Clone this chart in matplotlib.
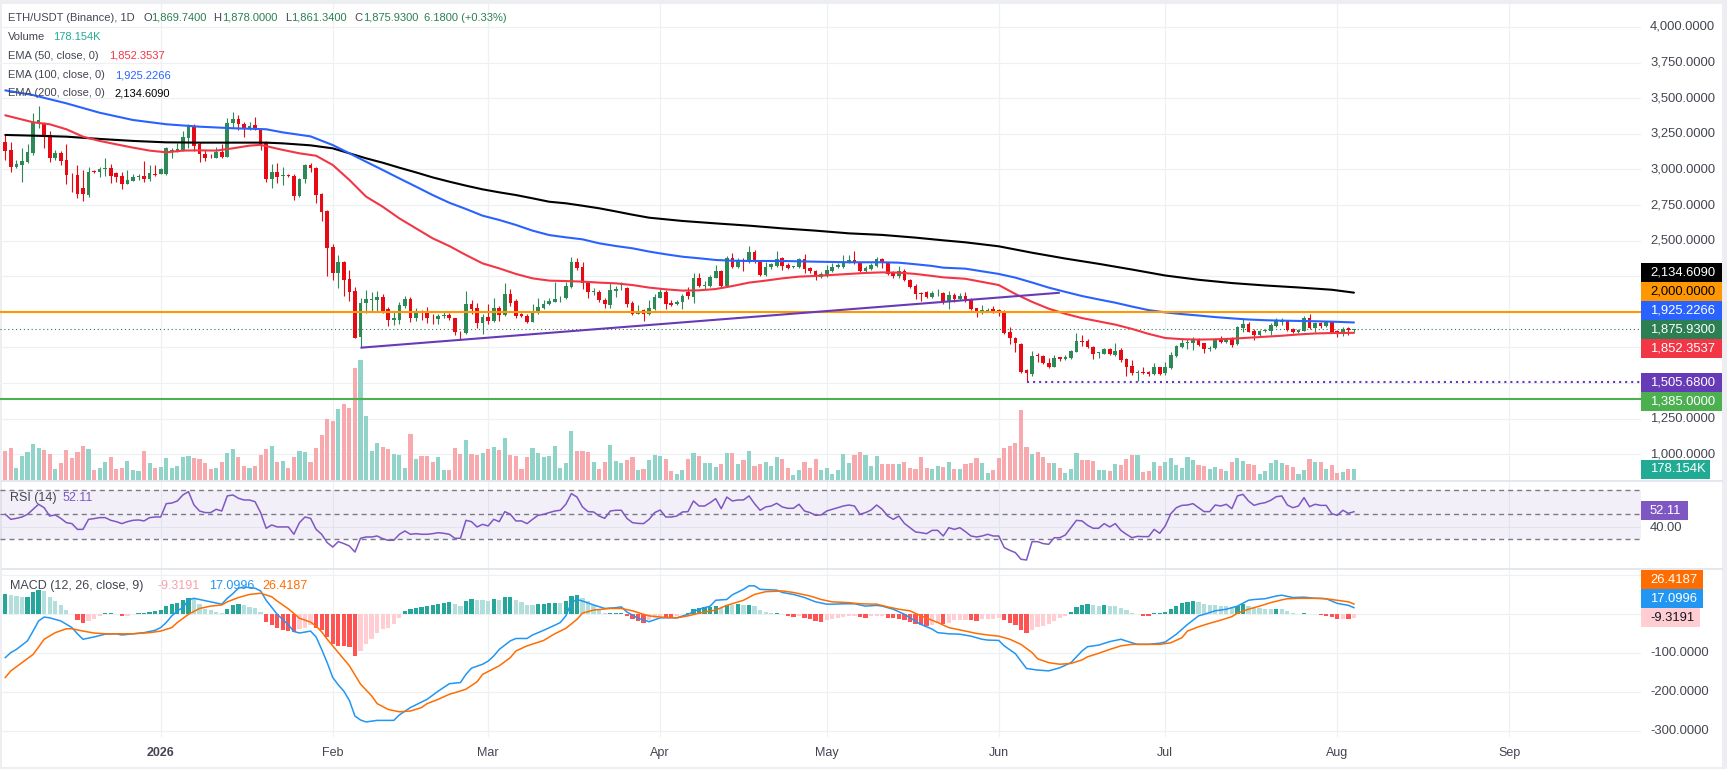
import numpy as np
import pandas as pd
import matplotlib
matplotlib.use('Agg')
import matplotlib.pyplot as plt
from matplotlib.patches import Rectangle
from matplotlib.lines import Line2D

plt.rcParams['font.family'] = ['Liberation Sans', 'DejaVu Sans']

# ---------------- data (daily candles from 2025-12-04) ----------------
first_date = '2025-12-04'
opens = [3190, 3137, 3020, 3031, 3055, 3118, 3325, 3324, 3242, 3083,
         3118, 3066, 2970, 2961, 2868, 2820, 2989, 2980, 3003, 3013,
         2973, 2956, 2898, 2921, 2947, 2956, 2933, 2968, 2968, 2966,
         3125, 3125, 3137, 3223, 3307, 3176, 3106, 3090, 3083, 3125,
         3090, 3324, 3354, 3317, 3289, 3312, 3282, 3190, 2933, 2980,
         2956, 2960, 2956, 2816, 2930, 3031, 3012, 2825, 2708, 2457,
         2270, 2352, 2230, 2146, 1820, 2060, 2080, 2083, 2104, 2020,
         1943, 1943, 2043, 2090, 1959, 1999, 1994, 1959, 1947, 1973,
         1978, 1954, 1860, 1849, 2055, 2024, 1924, 1966, 1936, 2029,
         1978, 2125, 2076, 1982, 1973, 1931, 1989, 2029, 2052, 2071,
         2095, 2095, 2177, 2347, 2317, 2200, 2137, 2142, 2083, 2048,
         2149, 2188, 2170, 2060, 1987, 2013, 1982, 2017, 2099, 2137,
         2060, 2053, 2067, 2137, 2106, 2240, 2181, 2184, 2240, 2287,
         2181, 2376, 2312, 2362, 2350, 2422, 2352, 2259, 2312, 2324,
         2376, 2329, 2317, 2317, 2371, 2305, 2287, 2247, 2254, 2289,
         2317, 2315, 2347, 2364, 2347, 2287, 2301, 2322, 2371, 2340,
         2275, 2252, 2287, 2223, 2184, 2130, 2137, 2106, 2130, 2134,
         2067, 2118, 2090, 2111, 2090, 2024, 2006, 2008, 2020, 2013,
         2008, 1861, 1819, 1774, 1592, 1563, 1697, 1690, 1643, 1615,
         1681, 1667, 1678, 1720, 1797, 1795, 1755, 1709, 1704, 1739,
         1697, 1732, 1669, 1620, 1568, 1580, 1575, 1563, 1610, 1568,
         1603, 1692, 1755, 1783, 1783, 1809, 1779, 1739, 1744, 1802,
         1786, 1809, 1772, 1889, 1915, 1865, 1837, 1865, 1868, 1903,
         1931, 1938, 1879, 1856, 1868, 1954, 1884, 1924, 1900, 1926,
         1868, 1842, 1888, 1869.74]
highs = [3242, 3190, 3066, 3148, 3176, 3394, 3448, 3336, 3270, 3137,
         3130, 3176, 2973, 3031, 2996, 3020, 2996, 3020, 3078, 3036,
         2985, 2980, 2996, 2966, 2966, 3059, 3031, 3031, 3013, 3160,
         3148, 3183, 3270, 3319, 3317, 3190, 3137, 3106, 3160, 3176,
         3364, 3406, 3382, 3331, 3331, 3371, 3293, 3200, 3038, 3043,
         3020, 2966, 2966, 2938, 3036, 3047, 3019, 2832, 2715, 2474,
         2399, 2357, 2294, 2177, 2099, 2153, 2142, 2146, 2123, 2036,
         2001, 2071, 2111, 2107, 2029, 2013, 2036, 1982, 1982, 2001,
         1989, 1959, 1865, 2146, 2083, 2060, 1982, 2055, 2095, 2043,
         2200, 2160, 2088, 1994, 1982, 2053, 2095, 2083, 2095, 2212,
         2109, 2212, 2387, 2375, 2352, 2212, 2165, 2153, 2095, 2200,
         2181, 2212, 2177, 2076, 2048, 2020, 2083, 2123, 2165, 2153,
         2083, 2083, 2123, 2177, 2275, 2270, 2216, 2259, 2329, 2294,
         2394, 2415, 2380, 2380, 2465, 2432, 2359, 2352, 2345, 2427,
         2387, 2340, 2322, 2380, 2404, 2317, 2294, 2277, 2329, 2340,
         2340, 2399, 2399, 2427, 2352, 2324, 2340, 2383, 2380, 2352,
         2287, 2324, 2301, 2230, 2195, 2137, 2146, 2146, 2160, 2142,
         2149, 2130, 2130, 2137, 2099, 2029, 2048, 2029, 2041, 2017,
         2013, 1891, 1826, 1779, 1599, 1727, 1709, 1697, 1674, 1697,
         1685, 1697, 1732, 1849, 1837, 1809, 1760, 1720, 1744, 1744,
         1783, 1744, 1678, 1662, 1592, 1613, 1587, 1643, 1615, 1645,
         1720, 1767, 1809, 1807, 1826, 1819, 1783, 1760, 1814, 1830,
         1819, 1826, 1900, 1947, 1926, 1877, 1872, 1879, 1919, 1954,
         1954, 1943, 1889, 1879, 1971, 1985, 1931, 1931, 1936, 1936,
         1872, 1891, 1892, 1878.00]
lows = [3066, 2985, 3008, 2914, 3043, 3102, 3293, 3148, 3050, 3066,
        3031, 2898, 2840, 2797, 2780, 2809, 2973, 2949, 2956, 2907,
        2910, 2863, 2895, 2919, 2926, 2914, 2919, 2956, 2966, 2961,
        3078, 3120, 3132, 3148, 3130, 3055, 3059, 3083, 3078, 3083,
        3085, 3289, 3277, 3230, 3277, 3277, 3137, 2914, 2867, 2907,
        2891, 2950, 2785, 2809, 2902, 2984, 2762, 2640, 2254, 2223,
        2165, 2114, 2076, 1814, 1748, 1994, 2001, 2001, 1994, 1903,
        1907, 1912, 2029, 1931, 1936, 1943, 1919, 1912, 1912, 1959,
        1943, 1837, 1802, 1842, 1982, 1889, 1842, 1912, 1926, 1936,
        1973, 2043, 1959, 1964, 1919, 1926, 1985, 2020, 2048, 2066,
        2066, 2090, 2170, 2294, 2158, 2095, 2118, 2067, 2029, 2025,
        2107, 2153, 2036, 1978, 1985, 1938, 1978, 2013, 2095, 2020,
        2043, 2048, 2020, 2090, 2064, 2177, 2160, 2177, 2235, 2177,
        2177, 2305, 2305, 2289, 2340, 2340, 2252, 2254, 2301, 2317,
        2294, 2301, 2305, 2310, 2270, 2270, 2223, 2235, 2247, 2282,
        2305, 2310, 2340, 2333, 2282, 2270, 2294, 2317, 2305, 2259,
        2240, 2240, 2216, 2165, 2090, 2076, 2099, 2099, 2111, 2053,
        2020, 2067, 2083, 2067, 2013, 1966, 1985, 2001, 1994, 1971,
        1844, 1772, 1720, 1568, 1505.68, 1552, 1650, 1631, 1608, 1610,
        1657, 1662, 1669, 1716, 1762, 1744, 1669, 1678, 1702, 1697,
        1692, 1650, 1552, 1556, 1517, 1563, 1552, 1556, 1556, 1556,
        1599, 1685, 1748, 1737, 1732, 1762, 1713, 1725, 1739, 1779,
        1779, 1755, 1767, 1861, 1856, 1802, 1833, 1856, 1837, 1896,
        1908, 1865, 1849, 1849, 1865, 1879, 1861, 1889, 1896, 1849,
        1826, 1833, 1840, 1861.34]
closes = [3132, 3020, 3038, 3059, 3125, 3329, 3345, 3230, 3083, 3113,
          3059, 2961, 2965, 2830, 2825, 2980, 2980, 3003, 3013, 2956,
          2945, 2895, 2926, 2949, 2952, 2933, 2973, 2961, 3003, 3148,
          3134, 3141, 3225, 3312, 3167, 3106, 3083, 3085, 3125, 3087,
          3324, 3352, 3317, 3293, 3307, 3282, 3172, 2930, 2980, 2945,
          2961, 2956, 2816, 2930, 3031, 3008, 2820, 2703, 2450, 2270,
          2347, 2223, 2142, 1818, 2060, 2090, 2090, 2104, 2001, 1943,
          1954, 2048, 2090, 1959, 1996, 1989, 1954, 1954, 1973, 1978,
          1954, 1856, 1856, 2055, 2020, 1919, 1961, 1936, 2029, 1978,
          2125, 2060, 1973, 1973, 1926, 1994, 2036, 2055, 2076, 2090,
          2100, 2184, 2352, 2310, 2200, 2137, 2146, 2083, 2052, 2153,
          2158, 2200, 2053, 1985, 1994, 1982, 2024, 2107, 2137, 2053,
          2048, 2067, 2114, 2111, 2240, 2184, 2188, 2247, 2287, 2181,
          2376, 2317, 2359, 2350, 2418, 2347, 2259, 2317, 2333, 2369,
          2322, 2310, 2321, 2369, 2301, 2287, 2247, 2263, 2294, 2317,
          2329, 2352, 2364, 2340, 2287, 2310, 2329, 2369, 2340, 2266,
          2254, 2289, 2223, 2177, 2125, 2125, 2106, 2134, 2134, 2067,
          2118, 2090, 2111, 2076, 2020, 2001, 2013, 2015, 2001, 2001,
          1854, 1814, 1779, 1580, 1568, 1690, 1690, 1639, 1610, 1674,
          1667, 1685, 1725, 1795, 1790, 1751, 1704, 1716, 1739, 1702,
          1725, 1662, 1615, 1568, 1580, 1573, 1566, 1610, 1563, 1615,
          1697, 1760, 1783, 1790, 1807, 1767, 1739, 1748, 1802, 1786,
          1809, 1767, 1896, 1915, 1861, 1837, 1868, 1872, 1908, 1943,
          1938, 1872, 1856, 1872, 1954, 1884, 1924, 1903, 1926, 1861,
          1842, 1879, 1869.75, 1875.93]
volume_k = [470, 513, 200, 389, 459, 583, 524, 486, 421, 180,
            270, 486, 362, 459, 551, 502, 170, 190, 286, 373,
            180, 200, 308, 170, 150, 470, 270, 200, 210, 362,
            200, 220, 378, 389, 362, 340, 281, 180, 200, 286,
            432, 497, 378, 220, 200, 230, 405, 502, 551, 297,
            308, 200, 378, 470, 459, 297, 513, 729, 988, 956,
            1150, 1231, 1166, 1814, 1944, 1037, 470, 599, 535, 502,
            421, 405, 200, 745, 340, 389, 389, 292, 373, 170,
            170, 518, 421, 648, 421, 405, 437, 502, 535, 486,
            680, 405, 389, 180, 373, 518, 437, 373, 389, 551,
            190, 275, 794, 470, 470, 454, 292, 180, 292, 567,
            308, 281, 324, 373, 162, 178, 324, 405, 394, 340,
            146, 97, 162, 340, 437, 389, 275, 275, 216, 259,
            437, 437, 259, 324, 470, 227, 259, 292, 227, 373,
            340, 194, 81, 162, 292, 194, 340, 162, 194, 97,
            162, 421, 275, 405, 454, 405, 227, 389, 259, 259,
            259, 259, 292, 194, 178, 373, 194, 178, 232, 211,
            292, 178, 178, 265, 281, 356, 275, 119, 162, 356,
            518, 551, 599, 1134, 535, 421, 454, 373, 275, 275,
            194, 113, 178, 437, 324, 324, 308, 162, 162, 146,
            259, 243, 340, 405, 405, 130, 146, 292, 227, 292,
            356, 243, 194, 373, 324, 243, 227, 178, 211, 178,
            146, 292, 356, 308, 259, 243, 97, 146, 275, 324,
            275, 243, 211, 97, 162, 340, 292, 292, 178, 243,
            119, 130, 178, 178.154]
rsi_vals = [50.0, 45.9, 46.7, 47.8, 50.0, 54.1, 58.2, 55.4, 48.6, 49.5,
            46.7, 43.2, 42.4, 37.7, 37.7, 45.9, 46.5, 47.3, 47.3, 45.1,
            44.0, 42.4, 44.0, 45.1, 45.4, 44.6, 47.3, 47.8, 47.8, 58.7,
            59.2, 60.9, 65.8, 68.5, 57.6, 52.7, 51.4, 51.4, 54.1, 52.7,
            65.0, 65.8, 63.1, 61.7, 61.7, 60.3, 51.4, 38.6, 41.3, 39.7,
            39.7, 39.7, 33.7, 43.2, 47.8, 46.7, 37.7, 33.7, 26.9, 23.3,
            27.7, 26.1, 24.1, 19.2, 30.4, 31.5, 31.5, 32.3, 30.1, 28.8,
            28.8, 33.7, 36.4, 33.7, 34.2, 33.7, 33.7, 34.2, 35.0, 34.5,
            33.7, 30.4, 30.4, 45.1, 44.0, 39.7, 41.8, 40.5, 45.9, 44.0,
            52.2, 50.0, 44.6, 44.6, 42.4, 45.9, 49.2, 50.0, 51.4, 52.7,
            53.3, 58.2, 66.9, 64.1, 56.0, 52.2, 51.9, 48.6, 46.7, 52.7,
            53.3, 53.3, 46.7, 43.2, 42.6, 42.4, 45.9, 51.4, 53.5, 47.8,
            47.8, 48.6, 51.9, 52.2, 60.9, 56.8, 56.8, 59.5, 62.8, 54.6,
            64.1, 60.9, 61.7, 61.7, 65.0, 58.7, 53.3, 56.0, 56.8, 59.0,
            56.0, 54.9, 54.9, 58.2, 52.7, 51.4, 49.2, 49.5, 52.7, 54.1,
            55.4, 56.8, 57.6, 56.8, 50.0, 51.4, 53.5, 57.6, 54.1, 48.6,
            45.9, 48.6, 42.6, 39.1, 35.6, 35.0, 34.2, 36.9, 36.9, 32.3,
            39.1, 37.7, 39.1, 35.8, 32.3, 31.5, 32.3, 33.7, 32.3, 32.3,
            22.8, 20.6, 18.7, 13.3, 12.7, 27.7, 27.7, 26.1, 25.5, 30.9,
            30.9, 33.1, 39.1, 45.1, 44.6, 41.0, 38.6, 38.6, 42.4, 39.7,
            42.4, 36.9, 33.7, 30.9, 32.0, 31.8, 31.8, 37.7, 34.5, 40.5,
            50.5, 55.4, 57.3, 57.6, 58.7, 55.4, 52.2, 52.2, 57.6, 56.8,
            58.2, 54.6, 65.0, 66.3, 60.9, 57.3, 58.7, 59.5, 61.4, 64.4,
            65.0, 57.6, 55.4, 56.8, 63.6, 56.2, 58.2, 57.3, 57.3, 50.5,
            49.2, 53.3, 50.8, 52.11]
macd_hist = [51, 50, 47, 44, 44, 57, 62, 60, 45, 34,
             24, 11, 2, -15, -21, -17, -11, -4, 3, 4,
             2, -4, -3.5, 2, 3.5, 4.5, 6, 8.5, 10, 21,
             26, 30, 37, 41, 38, 27, 13, 10, 7, 4,
             13, 24, 26, 24, 20, 15, 6, -19, -28, -34,
             -41, -43, -45, -38, -34, -27, -36, -41, -58, -77,
             -81, -82, -85, -107, -94, -77, -64, -47, -38, -34,
             -26, -10, 9, 13, 17, 20, 21, 24, 27, 28,
             32, 27, 22, 34, 40, 37, 36, 34, 40, 37,
             44, 45, 37, 32, 24, 23, 26, 27, 29, 30,
             29, 34, 47, 50, 41, 34, 24, 13, 3, 3.5,
             4, 4.5, -4, -13, -17, -21, -15, -10, -7, -7.5,
             -8, -4, 2, 3.5, 14, 17, 18, 20, 21, 17,
             25, 24, 26, 24, 25, 21, 11, 6, 3, 3.5,
             1, -4, -6, -5.5, -10, -13, -17, -20, -15, -12,
             -8.5, -7, -4.5, -4, -7, -8.5, -5, -4.5, -4, -10,
             -10.5, -11, -15, -19, -24, -28, -30, -27, -21, -26,
             -21, -15, -14.5, -14, -15, -16, -13, -12.5, -12, -8.5,
             -15, -21, -27, -40, -47, -40, -32, -30, -24, -17,
             -8.5, -4, 6, 19, 24, 26, 24, 21, 24, 21,
             20.5, 15, 10, 3.4, 1, -4, -4.5, 3.4, 3.6, 6,
             14.5, 21, 28, 32, 34, 32, 26, 24, 23.5, 21,
             20.5, 19, 21, 26, 21, 19, 17, 14.5, 14, 14.5,
             13, 8.5, 3.4, 1, 3.4, 1, 0.8, -2, -4, -7,
             -12, -11.5, -12, -9.3191]

# sampled indicator lines: day offset from 2026-01-01 and value
macd_day = [-28, -27, -26, -24, -23, -22, -21, -20, -18, -16,
            -15, -14, -12, -10, -8, -7, -5, -3, -1, 0,
            1, 2, 3, 4, 5, 6, 7, 9, 11, 12,
            13, 14, 15, 17, 18, 19, 21, 23, 24, 25,
            27, 28, 29, 30, 31, 32, 33, 34, 35, 36,
            37, 39, 41, 42, 43, 45, 47, 48, 50, 52,
            54, 55, 56, 58, 59, 60, 61, 63, 64, 66,
            67, 69, 71, 72, 73, 74, 75, 76, 78, 80,
            82, 83, 84, 86, 88, 90, 92, 93, 95, 97,
            99, 100, 102, 103, 105, 106, 107, 108, 111, 112,
            114, 116, 118, 120, 121, 123, 125, 127, 129, 130,
            132, 134, 135, 137, 139, 140, 142, 144, 146, 148,
            149, 151, 152, 154, 156, 158, 160, 162, 164, 166,
            167, 169, 171, 173, 175, 176, 178, 180, 181, 183,
            185, 187, 188, 190, 192, 194, 196, 197, 199, 201,
            202, 204, 206, 208, 210, 212, 214, 215]
macd_val = [-111, -98, -90, -68, -43, -17, -7, -9, -17, -34,
            -50, -64, -58, -51, -50, -53, -50, -47, -41, -34,
            -21, -4, 9, 17, 37, 41, 38, 32, 26, 41,
            53, 67, 70, 67, 60, 36, 0, -27, -44, -48,
            -43, -58, -90, -124, -162, -181, -197, -221, -261, -271,
            -276, -272, -272, -272, -258, -239, -225, -218, -197, -178,
            -175, -154, -138, -128, -120, -107, -90, -68, -62, -62,
            -53, -41, -28, -21, -4, 30, 38, 34, 24, 15,
            17, 19, 6, -10, -19, -9, -9, -9, 0, 13,
            21, 36, 38, 50, 64, 73, 73, 64, 62, 56,
            51, 43, 32, 26, 26, 27, 27, 21, 23, 21,
            13, 0, -9, -26, -38, -47, -50, -51, -56, -64,
            -66, -67, -81, -101, -139, -143, -145, -137, -124, -94,
            -83, -79, -70, -64, -73, -77, -77, -74, -71, -51,
            -26, -4, 0, 9, 13, 21, 36, 38, 40, 47,
            49, 43, 44, 41, 40, 28, 23, 17.0996]
sig_day = [-28, -27, -25, -23, -22, -21, -19, -17, -16, -14,
           -12, -10, -8, -5, -2, 0, 2, 3, 5, 7,
           9, 11, 12, 14, 16, 18, 20, 21, 23, 25,
           27, 28, 29, 30, 32, 34, 36, 38, 39, 41,
           43, 45, 47, 48, 50, 52, 53, 55, 57, 58,
           61, 63, 64, 66, 69, 71, 73, 75, 76, 78,
           81, 83, 85, 87, 88, 90, 93, 95, 97, 100,
           102, 105, 107, 109, 112, 114, 117, 119, 121, 124,
           126, 129, 131, 133, 135, 137, 140, 142, 145, 147,
           149, 151, 153, 155, 157, 158, 160, 162, 164, 166,
           167, 169, 171, 173, 175, 176, 178, 180, 182, 184,
           185, 187, 189, 191, 193, 194, 196, 198, 200, 202,
           203, 205, 207, 209, 211, 212, 214, 215]
sig_val = [-162, -145, -124, -103, -84, -64, -47, -37, -37, -43,
           -48, -50, -50, -50, -47, -43, -34, -21, 0, 15,
           21, 24, 32, 43, 51, 54, 45, 34, 14, -10,
           -20, -30, -45, -64, -98, -132, -179, -209, -229, -244,
           -250, -248, -239, -229, -218, -205, -201, -192, -173, -154,
           -132, -111, -94, -81, -67, -50, -36, -13, 3, 11,
           15, 15, 9, 0, -4, -7, -9, -4, 3, 11,
           23, 36, 51, 58, 60, 56, 47, 38, 32, 30,
           27, 26, 19, 13, 9, -4, -21, -34, -43, -49,
           -53, -56, -64, -77, -98, -114, -124, -128, -126, -117,
           -109, -100, -90, -81, -77, -77, -77, -77, -73, -60,
           -43, -32, -23, -15, -6, 3, 13, 21, 30, 37,
           40, 41, 41, 41, 38, 36, 32, 26.4187]
ema50_day = [-28, -23, -20, -17, -14, -11, -8, -5, -2, 1,
             4, 7, 10, 13, 16, 18, 22, 25, 28, 31,
             34, 37, 40, 43, 46, 49, 52, 55, 58, 61,
             64, 67, 70, 73, 76, 79, 82, 85, 88, 91,
             94, 97, 100, 103, 106, 109, 112, 115, 118, 121,
             124, 127, 130, 133, 136, 139, 141, 145, 151, 154,
             157, 160, 163, 166, 169, 172, 175, 178, 181, 184,
             187, 190, 193, 196, 199, 202, 205, 208, 211, 215]
ema50_val = [3380, 3331, 3317, 3282, 3230, 3200, 3176, 3153, 3132, 3120,
             3132, 3134, 3132, 3148, 3167, 3172, 3137, 3113, 3096, 3031,
             2926, 2809, 2738, 2656, 2586, 2516, 2462, 2399, 2340, 2305,
             2266, 2235, 2219, 2216, 2212, 2205, 2200, 2188, 2170, 2158,
             2149, 2151, 2160, 2181, 2205, 2219, 2235, 2247, 2252, 2259,
             2266, 2273, 2277, 2275, 2266, 2252, 2242, 2232, 2188, 2125,
             2070, 2022, 1986, 1956, 1933, 1910, 1880, 1845, 1816, 1808,
             1805, 1807, 1811, 1818, 1825, 1832, 1841, 1848, 1851, 1852.3537]
ema100_day = [-28, -23, -17, -11, -5, 1, 7, 13, 19, 22,
              27, 31, 34, 37, 40, 43, 46, 49, 52, 55,
              58, 61, 64, 67, 70, 73, 76, 79, 82, 85,
              88, 91, 94, 97, 100, 103, 106, 112, 118, 124,
              130, 133, 136, 139, 141, 145, 151, 154, 157, 160,
              163, 166, 169, 172, 175, 178, 181, 184, 187, 190,
              193, 196, 199, 202, 205, 208, 211, 215]
ema100_val = [3555, 3522, 3464, 3398, 3347, 3317, 3300, 3289, 3282, 3260,
              3232, 3171, 3113, 3054, 2996, 2937, 2879, 2820, 2766, 2722,
              2675, 2645, 2610, 2570, 2539, 2523, 2509, 2481, 2462, 2446,
              2423, 2404, 2387, 2376, 2364, 2359, 2357, 2357, 2352, 2348,
              2348, 2345, 2334, 2322, 2310, 2303, 2266, 2240, 2206, 2170,
              2140, 2111, 2087, 2064, 2037, 2012, 1996, 1984, 1974, 1963,
              1954, 1946, 1941, 1938, 1936, 1934, 1931, 1925.2266]
ema200_day = [-28, -23, -17, -11, -5, 1, 7, 13, 19, 22,
              27, 31, 34, 37, 40, 43, 46, 49, 52, 55,
              58, 61, 64, 67, 70, 73, 76, 79, 82, 85,
              88, 94, 100, 106, 112, 118, 124, 130, 136, 141,
              145, 151, 157, 163, 169, 175, 181, 187, 193, 199,
              205, 211, 215]
ema200_val = [3242, 3237, 3230, 3214, 3200, 3190, 3188, 3188, 3188, 3183,
              3169, 3148, 3113, 3078, 3047, 3012, 2979, 2944, 2914, 2886,
              2860, 2839, 2820, 2797, 2773, 2762, 2745, 2727, 2705, 2682,
              2661, 2638, 2621, 2605, 2586, 2570, 2551, 2540, 2521, 2502,
              2488, 2460, 2415, 2374, 2337, 2297, 2255, 2225, 2202, 2185,
              2171, 2155, 2134.609]

# drawings
level_orange = 2000.0
level_green = 1385.0
support_level = 1505.68
support_start_day = 156
trend_day = [36, 162]
trend_price = [1748, 2134]

month_ticks = ['2026-01-01', '2026-02-01', '2026-03-01', '2026-04-01', '2026-05-01',
               '2026-06-01', '2026-07-01', '2026-08-01', '2026-09-01']
month_labels = ['2026', 'Feb', 'Mar', 'Apr', 'May', 'Jun', 'Jul', 'Aug', 'Sep']
price_ticks = [4000, 3750, 3500, 3250, 3000, 2750, 2500, 2250, 2000, 1750, 1500, 1250, 1000]
price_tick_labels_shown = [4000, 3750, 3500, 3250, 3000, 2750, 2500, 1250, 1000]
macd_ticks = [100, 0, -100, -200, -300]
macd_tick_labels_shown = [-100, -200, -300]

# ---------------- figure ----------------
n = min(len(opens), len(highs), len(lows), len(closes), len(volume_k), len(rsi_vals), len(macd_hist))
O = np.array(opens[:n], float); Hh = np.array(highs[:n], float)
L = np.array(lows[:n], float); C = np.array(closes[:n], float)
V = np.array(volume_k[:n], float); R = np.array(rsi_vals[:n], float)
MH = np.array(macd_hist[:n], float)
origin = pd.Timestamp('2026-01-01')
xd = (pd.date_range(first_date, periods=n, freq='D') - origin).days.to_numpy().astype(float)

W, H = 1727, 769
fig = plt.figure(figsize=(W / 100, H / 100), dpi=100, facecolor='#eceef2')
fig.add_artist(Rectangle((2 / W, 1 - 767 / H), 1720 / W, 763 / H, transform=fig.transFigure,
                         facecolor='white', edgecolor='none', zorder=-10))

def px_axes(x0, y0, x1, y1):
    ax = fig.add_axes([x0 / W, 1 - y1 / H, (x1 - x0) / W, (y1 - y0) / H])
    ax.set_axis_off()
    return ax

XL = (-28.955, 266.72)
GRID = '#eef0f4'
TXT = '#434651'
UP, DN = '#2d8a57', '#e60a14'
VUP, VDN = '#90d3c8', '#f8a9ad'

ax_v = px_axes(0, 4, 1641, 481)
ax_p = px_axes(0, 4, 1641, 481)
ax_r = px_axes(0, 481, 1641, 569)
ax_m = px_axes(0, 569, 1641, 737)
PLIM = (812.0, 4161.5)
VLIM = (-16.2, 7711.0)
ax_v.set_ylim(VLIM); ax_p.set_ylim(PLIM)
ax_r.set_ylim(5.35, 77.2); ax_m.set_ylim(-314.6, 116.2)
for a in (ax_v, ax_p, ax_r, ax_m):
    a.set_xlim(XL)

tick_days = [(pd.Timestamp(t) - origin).days for t in month_ticks]

# grid
for d in tick_days:
    for a in (ax_v, ax_r, ax_m):
        a.axvline(d, color=GRID, lw=0.9, zorder=0)
for p in price_ticks:
    vy = VLIM[0] + (p - PLIM[0]) / (PLIM[1] - PLIM[0]) * (VLIM[1] - VLIM[0])
    ax_v.axhline(vy, color=GRID, lw=0.9, zorder=0)
ax_r.axhline(40, color=GRID, lw=0.9, zorder=0)
for t in macd_ticks:
    ax_m.axhline(t, color=GRID, lw=0.9, zorder=0)

# volume
up = C >= O
ax_v.bar(xd, V, width=0.74, color=np.where(up, VUP, VDN), linewidth=0, zorder=2)

# candles
cc = np.where(up, UP, DN)
ax_p.vlines(xd, L, Hh, colors=cc, lw=0.8, zorder=3)
ax_p.bar(xd, np.maximum(np.abs(C - O), 4), bottom=np.minimum(O, C), width=0.66,
         color=cc, linewidth=0, zorder=4)

# EMAs
ax_p.plot(ema200_day, ema200_val, color='#000000', lw=1.5, zorder=5, solid_capstyle='round')
ax_p.plot(ema100_day, ema100_val, color='#2962ff', lw=1.5, zorder=5, solid_capstyle='round')
ax_p.plot(ema50_day, ema50_val, color='#f23645', lw=1.5, zorder=5, solid_capstyle='round')

# drawings
ax_p.axhline(C[-1], color='#2b7f52', lw=0.8, linestyle=(0, (1, 2.5)), zorder=2)
ax_p.axhline(level_orange, color='#ff9800', lw=1.5, zorder=6)
ax_p.axhline(level_green, color='#4caf50', lw=1.5, zorder=6)
ax_p.plot(trend_day, trend_price, color='#673ab7', lw=1.5, zorder=6, solid_capstyle='butt')
ax_p.hlines(support_level, support_start_day, XL[1], colors='#673ab7', lw=1.5,
            linestyles=(0, (1, 1.9)), zorder=6)

# RSI
ax_r.axhspan(30, 70, color='#7e57c2', alpha=0.09, lw=0, zorder=0)
for lv in (70, 50, 30):
    ax_r.axhline(lv, color='#787b86', lw=1.0, linestyle=(0, (3.6, 2.9)), zorder=1)
ax_r.plot(xd, R, color='#7e57c2', lw=1.1, zorder=3)

# MACD
prev = np.r_[MH[0], MH[:-1]]
hcol = np.where(MH >= 0, np.where(MH >= prev, '#26a69a', '#b2dfdb'),
                np.where(MH > prev, '#ffcdd2', '#ff5252'))
ax_m.bar(xd, MH, width=0.76, color=hcol, linewidth=0, zorder=2)
ax_m.plot(macd_day, macd_val, color='#2196f3', lw=1.1, zorder=3)
ax_m.plot(sig_day, sig_val, color='#ff6d00', lw=1.1, zorder=3)

# separators
for yy in (481, 569):
    fig.add_artist(Line2D([2 / W, 1722 / W], [1 - yy / H, 1 - yy / H], transform=fig.transFigure,
                          color='#e0e3eb', lw=1.2, zorder=2))

def ypix(ax, v):
    return H - ax.transData.transform((0, v))[1]

def xpix(ax, d):
    return ax.transData.transform((d, 0))[0]

def T(x, y, s, color=TXT, size=8.0, **kw):
    fig.text(x / W, 1 - y / H, s, color=color, fontsize=size, va='center', ha=kw.pop('ha', 'left'),
             zorder=kw.pop('zorder', 7), **kw)

AX_FS = 9.4
for p in price_tick_labels_shown:
    T(1650, ypix(ax_p, p), f'{p:,.4f}', size=AX_FS, zorder=3)
T(1650, ypix(ax_r, 40) + 1.5, '40.00', size=AX_FS, zorder=3)
for t in macd_tick_labels_shown:
    T(1650, ypix(ax_m, t), f'{t:.4f}', size=AX_FS, zorder=3)

def tag(yc, text, bg, fg, x1):
    fig.add_artist(Rectangle((1641 / W, 1 - (yc + 9.5) / H), (x1 - 1641) / W, 19 / H,
                             transform=fig.transFigure, facecolor=bg, edgecolor='none', zorder=5))
    T(1650, yc, text, color=fg, size=AX_FS, zorder=6)

# price-scale tags (stacked around the last price)
cluster = [(ema200_val[-1], '#000000', 'white'), (level_orange, '#ff9800', '#000000'),
           (ema100_val[-1], '#2962ff', 'white'), (C[-1], '#2b7f52', 'white'),
           (ema50_val[-1], '#f23645', 'white')]
anchor = ypix(ax_p, C[-1])
for i, (v, bg, fg) in enumerate(cluster):
    tag(anchor + (i - 3) * 19, f'{v:,.4f}', bg, fg, 1722)
ys = ypix(ax_p, support_level)
tag(ys, f'{support_level:,.4f}', '#673ab7', 'white', 1722)
tag(max(ypix(ax_p, level_green), ys + 19), f'{level_green:,.4f}', '#4caf50', 'white', 1722)
vk = V[-1]
tag(H - ax_v.transData.transform((0, vk))[1], f'{vk:.3f}K', '#22ab94', 'white', 1710)
tag(ypix(ax_r, R[-1]) - 1, f'{R[-1]:.2f}', '#7e57c2', 'white', 1688)
ah = ypix(ax_m, MH[-1])
tag(ah, f'{MH[-1]:.4f}', '#ffcdd2', '#131722', 1700)
tag(ah - 19, f'{macd_val[-1]:.4f}', '#2196f3', 'white', 1703)
tag(ah - 38, f'{sig_val[-1]:.4f}', '#ff6d00', 'white', 1703)

# time axis
for d, lab in zip(tick_days, month_labels):
    T(xpix(ax_m, d), 753, lab, size=9.0, ha='center',
      fontweight='bold' if lab == '2026' else 'normal')

# legends
G = '#2b7f52'
T(8, 18, 'ETH/USDT (Binance), 1D')
T(143, 18, 'O'); T(151, 18, f'{O[-1]:,.4f}', G)
T(213, 18, 'H'); T(222, 18, f'{Hh[-1]:,.4f}', G)
T(285, 18, 'L'); T(291, 18, f'{L[-1]:,.4f}', G)
T(354, 18, 'C'); T(363, 18, f'{C[-1]:,.4f}', G)
chg = C[-1] - C[-2]
T(424, 18, f'{chg:.4f} ({chg / C[-2] * 100:+.2f}%)', G)
T(8, 37, 'Volume'); T(53, 37, f'{vk:.3f}K', '#22ab94')
T(8, 56, 'EMA (50, close, 0)'); T(109, 56, f'{ema50_val[-1]:,.4f}', '#f23645')
T(8, 75, 'EMA (100, close, 0)'); T(115, 75, f'{ema100_val[-1]:,.4f}', '#2962ff')
T(8, 93, 'EMA (200, close, 0)'); T(114, 93, f'{ema200_val[-1]:,.4f}', '#000000')
T(10, 498, 'RSI (14)', size=9.0); T(63, 498, f'{R[-1]:.2f}', '#7e57c2', size=9.0)
T(10, 586, 'MACD (12, 26, close, 9)', size=9.0)
T(157, 586, f'{MH[-1]:.4f}', '#f5a3ab', size=9.0)
T(209, 586, f'{macd_val[-1]:.4f}', '#2196f3', size=9.0)
T(262, 586, f'{sig_val[-1]:.4f}', '#ff6d00', size=9.0)

fig.savefig('out.png', dpi=100, facecolor=fig.get_facecolor())
